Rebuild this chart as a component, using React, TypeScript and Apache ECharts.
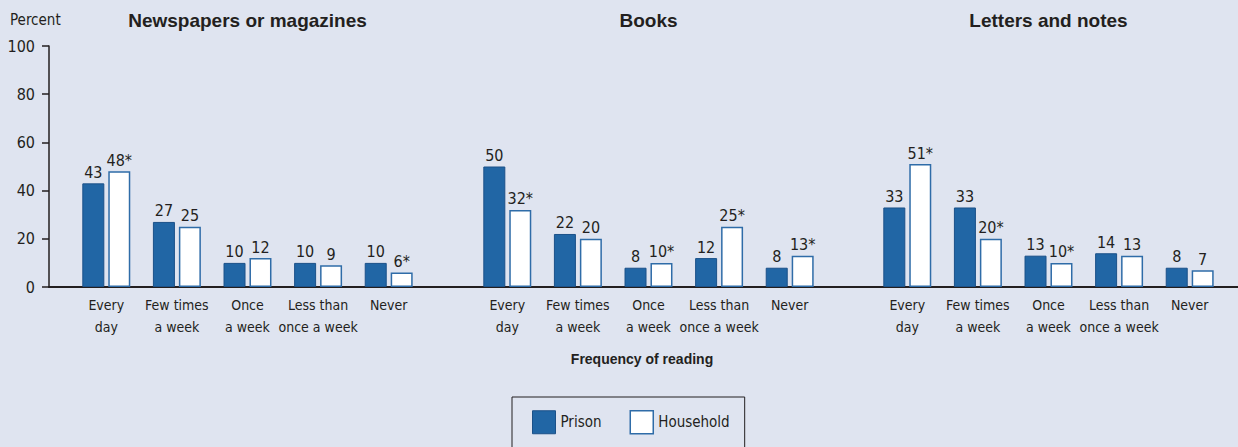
import React, { useEffect, useRef } from "react";
import * as echarts from "echarts";

const categories = ["Every\nday", "Few times\na week", "Once\na week", "Less than\nonce a week", "Never"];
const panelTitles = ["Newspapers or magazines", "Books", "Letters and notes"];

const newsPrison = [43, 27, 10, 10, 10];
const newsHousehold = [48, 25, 12, 9, 6];
const newsSig = [true, false, false, false, true];

const booksPrison = [50, 22, 8, 12, 8];
const booksHousehold = [32, 20, 10, 25, 13];
const booksSig = [true, false, true, true, true];

const lettersPrison = [33, 33, 13, 14, 8];
const lettersHousehold = [51, 20, 10, 13, 7];
const lettersSig = [true, true, true, false, false];

const panels = [
  { prison: newsPrison, household: newsHousehold, sig: newsSig },
  { prison: booksPrison, household: booksHousehold, sig: booksSig },
  { prison: lettersPrison, household: lettersHousehold, sig: lettersSig },
];

const TEXT = "#231f20";
const BG = "#dfe4f0";
const BLUE = "#2166a5";
const BLUE_BORDER = "#1b5189";
const HH_BORDER = "#2f6ca8";
const NARROW = "'Liberation Sans Narrow', 'DejaVu Sans Condensed', 'Arial Narrow', sans-serif";
const BOLD = "'Liberation Sans', Arial, sans-serif";

const GRID_TOP = 46;
const GRID_H = 241;
const PANEL_LEFTS = [71, 472, 872];
const PANEL_W = 353;

export default function App() {
  const ref = useRef<HTMLDivElement>(null);

  useEffect(() => {
    document.body.style.margin = "0";
    if (!ref.current) return;
    const chart = echarts.init(ref.current, undefined, { renderer: "svg" });

    const grids: any[] = [
      { left: 49, top: GRID_TOP, width: 1189, height: GRID_H, containLabel: false },
    ];
    const xAxes: any[] = [
      {
        type: "value",
        gridIndex: 0,
        min: 0,
        max: 1,
        axisLine: { show: true, onZero: false, lineStyle: { color: TEXT, width: 2 } },
        axisTick: { show: false },
        axisLabel: { show: false },
        splitLine: { show: false },
      },
    ];
    const yAxes: any[] = [
      {
        type: "value",
        gridIndex: 0,
        min: 0,
        max: 100,
        interval: 20,
        axisLine: { show: true, lineStyle: { color: TEXT, width: 1.5 } },
        axisTick: { show: true, length: 7, lineStyle: { color: TEXT, width: 1.5 } },
        axisLabel: { color: TEXT, fontSize: 16, fontFamily: NARROW, margin: 14 },
        splitLine: { show: false },
      },
    ];
    const series: any[] = [];

    panels.forEach((p, i) => {
      const gi = i + 1;
      grids.push({ left: PANEL_LEFTS[i], top: GRID_TOP, width: PANEL_W, height: GRID_H, containLabel: false });
      xAxes.push({
        type: "category",
        gridIndex: gi,
        data: categories,
        axisLine: { show: false },
        axisTick: { show: false },
        axisLabel: {
          color: TEXT,
          fontSize: 14,
          fontFamily: NARROW,
          lineHeight: 22,
          margin: 7,
          interval: 0,
        },
      });
      yAxes.push({ type: "value", gridIndex: gi, min: 0, max: 100, show: false });
      series.push({
        type: "bar",
        name: "Prison",
        xAxisIndex: gi,
        yAxisIndex: gi,
        data: p.prison,
        barWidth: 22,
        barGap: "18%",
        itemStyle: { color: BLUE, borderColor: BLUE_BORDER, borderWidth: 1 },
        label: {
          show: true,
          position: "top",
          distance: 3,
          color: TEXT,
          fontSize: 16,
          fontFamily: NARROW,
        },
      });
      series.push({
        type: "bar",
        name: "Household",
        xAxisIndex: gi,
        yAxisIndex: gi,
        data: p.household,
        barWidth: 22,
        barGap: "18%",
        itemStyle: { color: "#ffffff", borderColor: HH_BORDER, borderWidth: 1.5 },
        label: {
          show: true,
          position: "top",
          distance: 3,
          color: TEXT,
          fontSize: 16,
          fontFamily: NARROW,
          formatter: (params: any) => `${params.value}${p.sig[params.dataIndex] ? "*" : ""}`,
        },
      });
    });

    const graphics: any[] = [
      {
        type: "text",
        x: 10,
        y: 20,
        style: { text: "Percent", fill: TEXT, font: `15px ${NARROW}`, textVerticalAlign: "middle" },
      },
      ...panelTitles.map((t, i) => ({
        type: "text",
        x: PANEL_LEFTS[i] + PANEL_W / 2,
        y: 20,
        style: {
          text: t,
          fill: TEXT,
          font: `bold 19px ${BOLD}`,
          textAlign: "center",
          textVerticalAlign: "middle",
        },
      })),
      {
        type: "text",
        x: 642,
        y: 359,
        style: {
          text: "Frequency of reading",
          fill: TEXT,
          font: `bold 14px ${BOLD}`,
          textAlign: "center",
          textVerticalAlign: "middle",
        },
      },
    ];

    chart.setOption({
      animation: false,
      backgroundColor: BG,
      grid: grids,
      xAxis: xAxes,
      yAxis: yAxes,
      series,
      legend: {
        left: 512,
        top: 397,
        orient: "horizontal",
        itemWidth: 23,
        itemHeight: 23,
        itemGap: 28,
        padding: [13, 15, 20, 20],
        borderColor: TEXT,
        borderWidth: 1,
        textStyle: { color: TEXT, fontSize: 15, fontFamily: NARROW },
        data: [
          { name: "Prison", icon: "rect", itemStyle: { color: BLUE, borderColor: BLUE_BORDER, borderWidth: 1 } },
          { name: "Household", icon: "rect", itemStyle: { color: "#ffffff", borderColor: HH_BORDER, borderWidth: 1.5 } },
        ],
      },
      graphic: graphics,
    });

    return () => {
      chart.dispose();
    };
  }, []);

  return <div ref={ref} style={{ width: 1238, height: 447 }} />;
}
